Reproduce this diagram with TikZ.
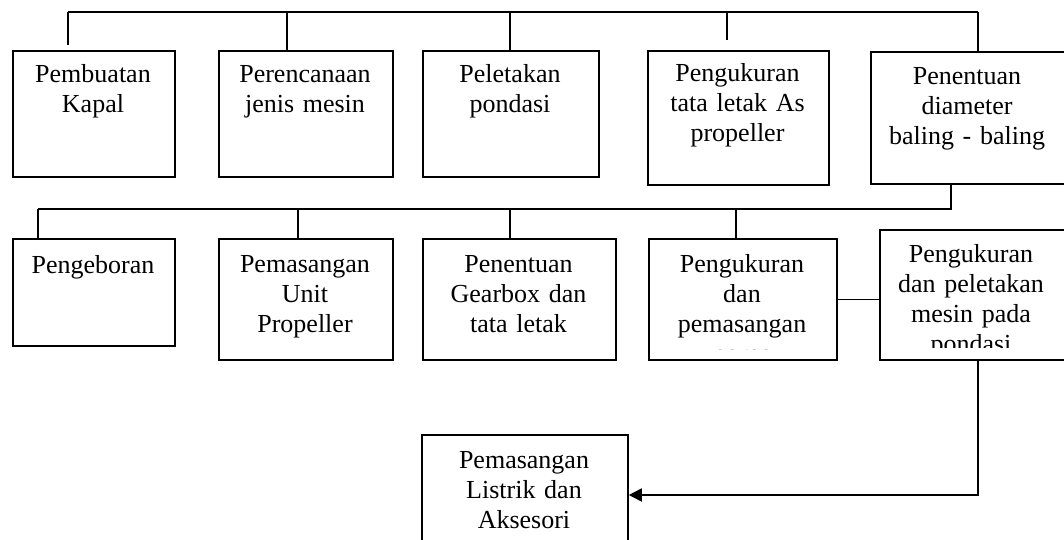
\documentclass[tikz,border=0pt]{standalone}
\usepackage{fontspec}
\setmainfont{Liberation Serif}
\usetikzlibrary{arrows.meta}
\begin{document}
\begin{tikzpicture}[x=1pt,y=-1pt,
  box/.style={draw, line width=1.8pt, inner sep=0pt, anchor=north west},
  conn/.style={line width=1.8pt},
  txt/.style={font=\fontsize{26}{30}\selectfont, align=center, anchor=base, inner sep=0pt, text width=200pt}]
\useasboundingbox (0,0) rectangle (1064,540);
\clip (0,0) rectangle (1064,540);
\fill[white] (0,0) rectangle (1064,540);
% row 1 boxes
\node[box, minimum width=162pt, minimum height=126pt] (b1) at (12,50) {};
\node[box, minimum width=174pt, minimum height=126pt] (b2) at (218,50) {};
\node[box, minimum width=176pt, minimum height=126pt] (b3) at (422,50) {};
\node[box, minimum width=181pt, minimum height=134pt] (b4) at (647,50) {};
\node[box, minimum width=196pt, minimum height=132pt] (b5) at (870,51) {};
% row 2 boxes
\node[box, minimum width=162pt, minimum height=107pt] (ba) at (12,238) {};
\node[box, minimum width=174pt, minimum height=121pt] (bb) at (218,238) {};
\node[box, minimum width=193pt, minimum height=121pt] (bc) at (422,238) {};
\node[box, minimum width=188pt, minimum height=121pt] (bd) at (648,238) {};
\node[box, minimum width=187pt, minimum height=130pt] (be) at (879,229) {};
% bottom box
\node[box, minimum width=206pt, minimum height=122pt] (bf) at (421,434) {};
% texts
\node[txt] (t1) at (93,83) {Pembuatan\\Kapal};
\node[txt] (t2) at (305,83) {Perencanaan\\jenis mesin};
\node[txt] (t3) at (510,83) {Peletakan\\pondasi};
\node[txt] (t4) at (737.5,82) {Pengukuran\\tata letak As\\propeller};
\node[txt] (t5) at (967,85) {Penentuan\\diameter\\baling - baling};
\node[txt] (ta) at (93,273) {Pengeboran};
\node[txt] (tb) at (305,272) {Pemasangan\\Unit\\Propeller};
\node[txt] (tc) at (518.5,272) {Penentuan\\Gearbox dan\\tata letak};
\begin{scope}
\clip (648,238) rectangle (836,349);
\node[txt] (td) at (742,272) {Pengukuran\\dan\\pemasangan\\poros};
\end{scope}
\begin{scope}
\clip (879,229) rectangle (1066,347.5);
\node[txt] (te) at (971,262) {Pengukuran\\dan peletakan\\mesin pada\\pondasi};
\end{scope}
\node[txt] (tf) at (524,468) {Pemasangan\\Listrik dan\\Aksesori};
% top connector
\coordinate (tl) at (68,12);
\coordinate (tr) at (978,12);
\coordinate (s1) at (68,45);
\coordinate (s4) at (727,40);
\draw[conn] (tl) -- (tr);
\draw[conn] (tl) -- (s1);
\draw[conn] (tl -| 287,0) -- (b2.north -| 287,0);
\draw[conn] (tl -| 510,0) -- (b3.north -| 510,0);
\draw[conn] (tl -| s4) -- (s4);
\draw[conn] (tr) -- (tr |- b5.north);
% second connector
\coordinate (m1) at (951,209);
\coordinate (m0) at (38,209);
\draw[conn] (b5.south -| m1) -- (m1) -- (m0);
\draw[conn] (m0) -- (m0 |- ba.north);
\draw[conn] (m0 -| 298,0) -- (bb.north -| 298,0);
\draw[conn] (m0 -| 510,0) -- (bc.north -| 510,0);
\draw[conn] (m0 -| 736,0) -- (bd.north -| 736,0);
% side connector
\draw[conn] (bd.east) -- (bd.east -| be.west);
% arrow
\coordinate (ar) at (978,495);
\draw[conn, -{Triangle[length=13pt, width=13pt]}] (be.south -| ar) -- (ar) -- (ar -| bf.east);
\end{tikzpicture}
\end{document}
